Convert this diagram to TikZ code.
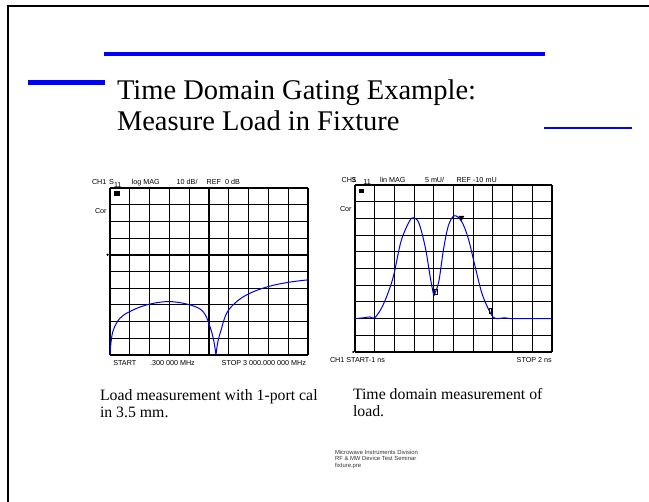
\documentclass[tikz,border=0pt]{standalone}
\usepackage{fontspec}
\setmainfont{Liberation Serif}
\setsansfont{Liberation Sans}
\begin{document}
\begin{tikzpicture}[x=1pt,y=-1pt,
  every node/.style={inner sep=0pt,outer sep=0pt,anchor=base west},
  titletext/.style={font=\fontsize{28.5}{31}\selectfont},
  captext/.style={font=\fontsize{15.8}{17}\selectfont},
  scrtext/.style={font=\sffamily\fontsize{7.2}{8}\selectfont},
  foottext/.style={font=\sffamily\fontsize{5.9}{6.3}\selectfont, text=black!80},
  accent/.style={draw=blue},
  gridline/.style={draw=black, line width=1.1pt},
  trace/.style={draw=blue!90!black, line width=1pt, line join=round},
  mkr/.style={fill=black, inner sep=0pt}]
\useasboundingbox (0,0) rectangle (649,502);

% page frame
\draw[line width=1.3pt] (8,502) -- (8,6) -- (649,6);

% decorative rules
\draw[accent, line width=3.2pt] (104,54) -- (545,54);
\draw[accent, line width=4.8pt] (28,82.5) -- (105,82.5);
\draw[accent, line width=2.2pt] (544,128) -- (632,128);

% heading
\node[titletext] (t1) at (117,100) {Time Domain Gating Example:};
\node[titletext] (t2) at (117,131) {Measure Load in Fixture};

% ---------- left screen: log magnitude ----------
\begin{scope}[shift={(110,355)}, x=19.8pt, y=16.7pt]
  \foreach \i in {0,...,10} {
    \draw[gridline] (\i,0) -- (\i,10);
    \draw[gridline] (0,\i) -- (10,\i);
  }
  \draw[line width=1.6pt] (0,6) -- (10,6);
  \fill (-0.12,6) circle (1.2pt);
  \fill (0.2,9.55) rectangle (0.48,9.8);
  \draw[trace] plot[smooth, tension=0.6] coordinates {
    (0,0) (0.05,0.75) (0.17,1.5) (0.5,2.2) (1.0,2.6) (1.85,3.0) (2.95,3.2)
    (4.04,3.0) (4.7,2.6) (5.05,1.7) (5.25,0.8) (5.35,0)};
  \draw[trace] plot[smooth, tension=0.6] coordinates {
    (5.35,0) (5.45,0.8) (5.6,1.45) (5.89,2.5) (6.4,3.2) (7.07,3.7)
    (8.0,4.1) (9.0,4.35) (10,4.5)};
\end{scope}
\node[scrtext] (l1) at (92,185) {CH1};
\node[scrtext] (l2) at (109,185) {S};
\node[scrtext] (l3) at (114,187.5) {11};
\node[scrtext] (l4) at (131.7,185) {log MAG};
\node[scrtext] (l5) at (176.7,185) {10 dB/};
\node[scrtext] (l6) at (206.7,185) {REF\ \ 0 dB};
\node[scrtext] (l7) at (95,214) {Cor};
\node[scrtext] (l8) at (113.3,366) {START};
\node[scrtext] (l9) at (150,366) {.300 000 MHz};
\node[scrtext] (l10) at (221.7,366) {STOP 3 000.000 000 MHz};

% ---------- right screen: time domain ----------
\begin{scope}[shift={(355,352)}, x=19.7pt, y=16.7pt]
  \foreach \i in {0,...,10} {
    \draw[gridline] (\i,0) -- (\i,10);
    \draw[gridline] (0,\i) -- (10,\i);
  }
  \fill (-0.09,0) circle (1.1pt);
  \fill (0.22,9.5) rectangle (0.48,9.75);
  \draw[trace] plot[smooth, tension=0.55] coordinates {
    (0,2.0) (0.45,2.05) (0.75,2.1) (1.0,2.05) (1.42,2.8) (1.92,4.4)
    (2.33,6.6) (2.75,7.8) (2.97,8.04) (3.25,7.7) (3.58,6.2) (3.83,4.4)
    (4.0,3.36)};
  \draw[trace] plot[smooth, tension=0.55] coordinates {
    (4.0,3.36) (4.25,4.2) (4.5,6.2) (4.75,7.6) (5.05,8.16) (5.42,7.8)
    (5.75,6.8) (6.08,5.2) (6.42,3.6) (6.72,2.7) (7.0,2.1) (7.25,2.0)
    (7.6,2.05) (8.0,2.0) (10,2.0)};
  % trace markers
  \fill (5.25,8.15) -- (5.55,8.15) -- (5.4,7.85) -- cycle;
  \draw[line width=0.7pt] (4.05,3.45) rectangle (4.2,3.75);
  \draw[line width=0.7pt] (6.8,2.6) -- (6.8,2.3) (6.8,2.6) -- (6.93,2.6) -- (6.93,2.25);
\end{scope}
\node[scrtext] (r1) at (341.7,182.6) {CH1};
\node[scrtext] (r2) at (351.5,182.6) {S};
\node[scrtext] (r3) at (363.3,185) {11};
\node[scrtext] (r4) at (380,182.6) {lin MAG};
\node[scrtext] (r5) at (425,182.6) {5 mU/};
\node[scrtext] (r6) at (456.7,182.6) {REF -10 mU};
\node[scrtext] (r7) at (340,212) {Cor};
\node[scrtext] (r8) at (330,362.6) {CH1 START-1 ns};
\node[scrtext] (r9) at (516.7,362.6) {STOP 2 ns};

% captions
\node[captext] (c1) at (100,401) {Load measurement with 1-port cal};
\node[captext] (c2) at (100,417.7) {in 3.5 mm.};
\node[captext] (c3) at (353,399.3) {Time domain measurement of};
\node[captext] (c4) at (353,416.2) {load.};

% footer
\node[foottext] (f1) at (335,454.7) {Microwave Instruments Division};
\node[foottext] (f2) at (335,461) {RF \& MW Device Test Seminar};
\node[foottext] (f3) at (335,467.3) {fixture.pre};
\end{tikzpicture}
\end{document}
